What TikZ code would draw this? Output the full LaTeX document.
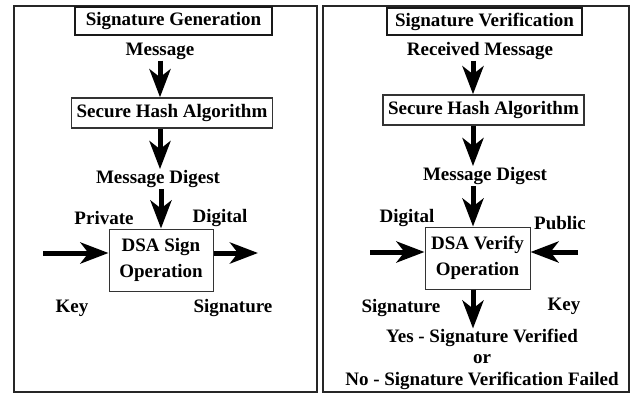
\documentclass[tikz,border=0pt]{standalone}
\usepackage{fontspec}
\setmainfont{Liberation Serif}
\usetikzlibrary{arrows.meta}

\begin{document}
\begin{tikzpicture}[x=1pt, y=-1pt, font=\rmfamily\bfseries\fontsize{19}{26}\selectfont,
		>={Stealth[length=28pt, width=21pt, inset=8pt]}]
			
			% Stili per i riquadri e le frecce
			\tikzset{
				panel/.style={
					draw=black!85,
					line width=2pt
				},
				titlebox/.style={
					draw=black!90,
					line width=2.4pt,
					inner sep=0pt
				},
				hashbox/.style={
					draw=black!80,
					line width=1.5pt,
					minimum width=201pt,
					minimum height=30pt,
					inner sep=0pt
				},
				opbox/.style={
					draw=black!80,
					line width=1pt,
					minimum width=104pt,
					minimum height=62pt,
					align=center,
					inner sep=0pt
				},
				lbl/.style={
					inner sep=1pt
				},
				flow/.style={
					->,
					line width=5pt
				}
			}
			
			\useasboundingbox (0,0) rectangle (631,394);
			
			% Cornici dei due pannelli
			\draw[panel] (14,6) rectangle (317,392);
			\draw[panel] (323,6) rectangle (629,392);
			
			% Pannello sinistro: generazione della firma
			\node[titlebox, minimum width=197pt, minimum height=28pt] (gtitle) at (173.5,21) {Signature Generation};
			\node[lbl] (gmsg) at (160,51) {Message};
			\node[hashbox] (gsha) at (172,113) {Secure Hash Algorithm};
			\node[lbl] (gdig) at (158,179) {Message Digest};
			\node[opbox] (gsign) at (161,260) {DSA Sign\\Operation};
			\coordinate (gkeyin) at (43,253);
			\coordinate (gsigout) at (258,253);
			
			\node[lbl] (gpriv) at (104,218) {Private};
			\node[lbl] (gdigital) at (220,218) {Digital};
			\node[lbl] (gkey) at (72,308) {Key};
			\node[lbl] (gsig) at (233,308) {Signature};
			
			\draw[flow] (gmsg.south) -- (gmsg.south |- gsha.north);
			\draw[flow] (gmsg.south |- gsha.south) -- (gdig.north -| gmsg.south);
			\draw[flow] (gdig.south -| gsign.north) -- (gsign.north);
			\draw[flow] (gkeyin) -- (gkeyin -| gsign.west);
			\draw[flow] (gsigout -| gsign.east) -- (gsigout);
			
			% Pannello destro: verifica della firma
			\node[titlebox, minimum width=195pt, minimum height=27pt] (vtitle) at (484.5,21.5) {Signature Verification};
			\node[lbl] (vmsg) at (480,51) {Received Message};
			\node[hashbox] (vsha) at (483.5,110) {Secure Hash Algorithm};
			\node[lbl] (vdig) at (485,176) {Message Digest};
			\node[opbox, minimum width=105pt] (vver) at (477.5,258) {DSA Verify\\Operation};
			\node[align=center, inner sep=0pt, font=\rmfamily\bfseries\fontsize{19}{21.5}\selectfont] (vres) at (482,359)
				{Yes - Signature Verified\\or\\No - Signature Verification Failed};
			\coordinate (vsigin) at (370,252);
			\coordinate (vkeyin) at (578,252);
			
			\node[lbl] (vdigital) at (407,218) {Digital};
			\node[lbl] (vpub) at (560,223) {Public};
			\node[lbl] (vsig) at (401,308) {Signature};
			\node[lbl] (vkey) at (564,306) {Key};
			
			\draw[flow] (vmsg.south -| vver.north) ++(-4.5,0) coordinate (vx) -- (vx |- vsha.north);
			\draw[flow] (vx |- vsha.south) -- (vx |- vdig.north);
			\draw[flow] (vx |- vdig.south) -- (vx |- vver.north);
			\draw[flow] (vsigin) -- (vsigin -| vver.west);
			\draw[flow] (vkeyin) -- (vkeyin -| vver.east);
			\draw[flow] (vx |- vver.south) -- (vx |- vres.north);
			
		\end{tikzpicture}
\end{document}
